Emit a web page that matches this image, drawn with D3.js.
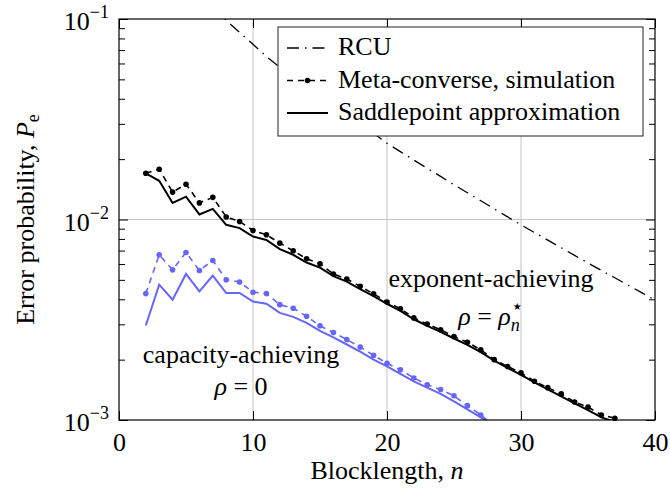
<!DOCTYPE html>
<html>
<head>
<meta charset="utf-8">
<script src="https://cdn.jsdelivr.net/npm/d3@7"></script>
<style>
  body { margin: 0; background: #fff; }
  text { font-family: "Liberation Serif", "Times New Roman", serif; fill: #000; }
</style>
</head>
<body>
<div id="canvas"></div>
<script>
"use strict"

let drawingWidth = 670;
let drawingHeight = 490;
let plotLeft = 119, plotRight = 655, plotTop = 19, plotBottom = 420;

/* data */
let xTicks = [0, 10, 20, 30, 40];
let yTicks = [1e-3, 1e-2, 1e-1];
let yTickExponents = ["\u22123", "\u22122", "\u22121"];
let minorMultipliers = [2, 3, 4, 5, 6, 7, 8, 9];

// exponent-achieving (black), n = 2..37
let nExp = [2, 3, 4, 5, 6, 7, 8, 9, 10, 11, 12, 13, 14, 15, 16, 17, 18, 19, 20,
            21, 22, 23, 24, 25, 26, 27, 28, 29, 30, 31, 32, 33, 34, 35, 36, 37];
let simExp = [0.0170, 0.0178, 0.0137, 0.0150, 0.0121, 0.0129, 0.0103, 0.00977, 0.00881,
              0.00840, 0.00762, 0.00698, 0.00637, 0.00601, 0.00535, 0.00505, 0.00464,
              0.00426, 0.00388, 0.00359, 0.00323, 0.00301, 0.00282, 0.00261, 0.00244,
              0.00224, 0.00200, 0.00185, 0.00172, 0.00156, 0.00145, 0.00135, 0.00123,
              0.00116, 0.00106, 0.00102];
let saddleExp = [0.0170, 0.0156, 0.0121, 0.0130, 0.0106, 0.0113, 0.00941, 0.00906, 0.00822,
                 0.00790, 0.00712, 0.00667, 0.00610, 0.00575, 0.00522, 0.00490, 0.00450,
                 0.00415, 0.00380, 0.00350, 0.00318, 0.00295, 0.00275, 0.00255, 0.00237,
                 0.00218, 0.00198, 0.00182, 0.00168, 0.00154, 0.00142, 0.00131, 0.00121,
                 0.00112, 0.00103, 0.00098];

// capacity-achieving (blue), n = 2..28
let nCap = [2, 3, 4, 5, 6, 7, 8, 9, 10, 11, 12, 13, 14, 15, 16, 17, 18, 19, 20,
            21, 22, 23, 24, 25, 26, 27, 28];
let simCap = [0.00427, 0.00667, 0.00561, 0.00685, 0.00557, 0.00625, 0.00501, 0.00488,
              0.00434, 0.00427, 0.00376, 0.00361, 0.00329, 0.00295, 0.00273, 0.00252,
              0.00231, 0.00210, 0.00192, 0.00178, 0.00162, 0.00150, 0.00142, 0.00132,
              0.00118, 0.00106, 0.00093];
let saddleCap = [0.00296, 0.00473, 0.00398, 0.00535, 0.00438, 0.00525, 0.00430, 0.00430,
                 0.00390, 0.00380, 0.00342, 0.00327, 0.00305, 0.00278, 0.00258, 0.00238,
                 0.00219, 0.00200, 0.00185, 0.00170, 0.00156, 0.00145, 0.00135, 0.00124,
                 0.00113, 0.00103, 0.00094];

// RCU bound, n = 7..40
let nRcu = [7, 8, 9, 10, 11, 12, 13, 14, 15, 16, 17, 18, 19, 20, 21, 22, 23, 24, 25, 26,
            27, 28, 29, 30, 31, 32, 33, 34, 35, 36, 37, 38, 39, 40];
let rcu = [0.117, 0.0986, 0.0857, 0.0748, 0.0650, 0.0575, 0.0515, 0.0462, 0.0415, 0.0372,
           0.0334, 0.0300, 0.0269, 0.0240, 0.0218, 0.0198, 0.0180, 0.0164, 0.0149, 0.0136,
           0.0124, 0.0113, 0.0103, 0.00940, 0.00861, 0.00789, 0.00723, 0.00662, 0.00607,
           0.00557, 0.00512, 0.00470, 0.00432, 0.00396];

let legendLabels = ["RCU", "Meta-converse, simulation", "Saddlepoint approximation"];

let blue = "#6666ff";

let drawing = d3.select("#canvas")
    .append("svg")
    .attr("width", drawingWidth)
    .attr("height", drawingHeight);

let x = d3.scaleLinear().domain([0, 40]).range([plotLeft, plotRight]);
let y = d3.scaleLog().domain([1e-3, 1e-1]).range([plotBottom, plotTop]);

drawing.append("clipPath")
    .attr("id", "plotClip")
    .append("rect")
    .attr("x", plotLeft)
    .attr("y", plotTop)
    .attr("width", plotRight - plotLeft)
    .attr("height", plotBottom - plotTop);

/* grid */
let grid = drawing.append("g").attr("stroke", "#c4c4c4").attr("stroke-width", 1);
grid.selectAll(".vgrid")
    .data(xTicks.slice(1, -1))
    .join("line")
    .attr("x1", d => x(d)).attr("x2", d => x(d))
    .attr("y1", plotTop).attr("y2", plotBottom);
grid.selectAll(".hgrid")
    .data([1e-2])
    .join("line")
    .attr("x1", plotLeft).attr("x2", plotRight)
    .attr("y1", d => y(d)).attr("y2", d => y(d));

/* ticks, drawn inward */
let bottomAxis = drawing.append("g")
    .attr("transform", `translate(0,${plotBottom})`)
    .call(d3.axisBottom(x).tickValues(xTicks).tickSizeInner(-9).tickSizeOuter(0).tickFormat(d3.format("d")));
bottomAxis.select(".domain").remove();
bottomAxis.selectAll("text")
    .attr("y", 31).attr("dy", null)
    .attr("font-size", 26)
    .attr("font-family", null);

let topAxis = drawing.append("g")
    .attr("transform", `translate(0,${plotTop})`)
    .call(d3.axisTop(x).tickValues(xTicks).tickSizeInner(-9).tickSizeOuter(0).tickFormat(""));
topAxis.select(".domain").remove();

let minorTicks = [];
yTicks.slice(0, -1).forEach(t => minorMultipliers.forEach(m => minorTicks.push(t * m)));

let leftAxis = drawing.append("g")
    .attr("transform", `translate(${plotLeft},0)`)
    .call(d3.axisLeft(y).tickValues(yTicks).tickSizeInner(-9).tickSizeOuter(0).tickFormat(""));
leftAxis.select(".domain").remove();
let rightAxis = drawing.append("g")
    .attr("transform", `translate(${plotRight},0)`)
    .call(d3.axisRight(y).tickValues(yTicks).tickSizeInner(-9).tickSizeOuter(0).tickFormat(""));
rightAxis.select(".domain").remove();

drawing.append("g")
    .attr("transform", `translate(${plotLeft},0)`)
    .call(d3.axisLeft(y).tickValues(minorTicks).tickSizeInner(-6).tickSizeOuter(0).tickFormat(""))
    .select(".domain").remove();
drawing.append("g")
    .attr("transform", `translate(${plotRight},0)`)
    .call(d3.axisRight(y).tickValues(minorTicks).tickSizeInner(-6).tickSizeOuter(0).tickFormat(""))
    .select(".domain").remove();

// y tick labels 10^k
let yLabels = drawing.append("g")
    .selectAll("text")
    .data(yTicks)
    .join("text")
    .attr("x", plotLeft - 10)
    .attr("y", d => y(d) + 11)
    .attr("text-anchor", "end")
    .attr("font-size", 26);
yLabels.append("tspan").text("10");
yLabels.append("tspan")
    .attr("dy", -12)
    .attr("font-size", 18)
    .text((d, i) => yTickExponents[i]);

/* data lines */
let lineGen = d3.line().x(d => x(d[0])).y(d => y(d[1]));
let plotArea = drawing.append("g").attr("clip-path", "url(#plotClip)");

plotArea.append("path")
    .attr("d", lineGen(d3.zip(nRcu, rcu)))
    .attr("fill", "none")
    .attr("stroke", "black")
    .attr("stroke-width", 1.3)
    .attr("stroke-dasharray", "12,6,1.5,6");

function drawSeries(ns, sim, saddle, color) {
    plotArea.append("path")
        .attr("d", lineGen(d3.zip(ns, saddle)))
        .attr("fill", "none")
        .attr("stroke", color)
        .attr("stroke-width", 2);
    plotArea.append("path")
        .attr("d", lineGen(d3.zip(ns, sim)))
        .attr("fill", "none")
        .attr("stroke", color)
        .attr("stroke-width", 1.6)
        .attr("stroke-dasharray", "6,5");
    drawing.append("g")
        .selectAll("circle")
        .data(d3.zip(ns, sim).filter(d => d[1] >= 1e-3))
        .join("circle")
        .attr("cx", d => x(d[0]))
        .attr("cy", d => y(d[1]))
        .attr("r", 2.8)
        .attr("fill", color);
}
drawSeries(nCap, simCap, saddleCap, blue);
drawSeries(nExp, simExp, saddleExp, "black");

/* frame */
drawing.append("rect")
    .attr("x", plotLeft)
    .attr("y", plotTop)
    .attr("width", plotRight - plotLeft)
    .attr("height", plotBottom - plotTop)
    .attr("fill", "none")
    .attr("stroke", "black")
    .attr("stroke-width", 1.2);

/* axis labels */
drawing.append("text")
    .attr("x", (plotLeft + plotRight) / 2)
    .attr("y", 479)
    .attr("text-anchor", "middle")
    .attr("font-size", 26)
    .call(t => t.append("tspan").text("Blocklength, "))
    .call(t => t.append("tspan").attr("font-style", "italic").text("n"));

let yTitle = drawing.append("text")
    .attr("transform", `translate(34,${(plotTop + plotBottom) / 2}) rotate(-90)`)
    .attr("text-anchor", "middle")
    .attr("font-size", 26);
yTitle.append("tspan").text("Error probability, ");
yTitle.append("tspan").attr("font-style", "italic").text("P");
yTitle.append("tspan").attr("dy", 5).attr("font-size", 18).text("e");

/* annotations */
drawing.append("text")
    .attr("x", 491).attr("y", 287)
    .attr("text-anchor", "middle")
    .attr("font-size", 26)
    .text("exponent-achieving");
let rhoStar = drawing.append("text")
    .attr("x", 491).attr("y", 325)
    .attr("text-anchor", "middle")
    .attr("font-size", 26);
rhoStar.append("tspan").attr("font-style", "italic").text("\u03c1");
rhoStar.append("tspan").text(" = ");
rhoStar.append("tspan").attr("font-style", "italic").text("\u03c1");
rhoStar.append("tspan").attr("font-style", "italic").attr("font-size", 18).attr("dy", 6).text("n");
rhoStar.append("tspan").attr("font-size", 20).attr("dx", -9).attr("dy", -18).text("\u22c6");

drawing.append("text")
    .attr("x", 241).attr("y", 363)
    .attr("text-anchor", "middle")
    .attr("font-size", 26)
    .text("capacity-achieving");
let rhoZero = drawing.append("text")
    .attr("x", 241).attr("y", 395)
    .attr("text-anchor", "middle")
    .attr("font-size", 26);
rhoZero.append("tspan").attr("font-style", "italic").text("\u03c1");
rhoZero.append("tspan").text(" = 0");

/* legend */
let legend = drawing.append("g");
legend.append("rect")
    .attr("x", 278).attr("y", 27)
    .attr("width", 365).attr("height", 109)
    .attr("fill", "white")
    .attr("stroke", "#222")
    .attr("stroke-width", 1);
let rowY = [48, 80.5, 113];
let rowDash = ["12,6,1.5,6", "6,5", null];
let rowWidth = [1.3, 1.6, 2];
legend.selectAll(".sample")
    .data(legendLabels)
    .join("line")
    .attr("x1", 287).attr("x2", 328)
    .attr("y1", (d, i) => rowY[i]).attr("y2", (d, i) => rowY[i])
    .attr("stroke", "black")
    .attr("stroke-width", (d, i) => rowWidth[i])
    .attr("stroke-dasharray", (d, i) => rowDash[i]);
legend.append("circle")
    .attr("cx", 307.5).attr("cy", rowY[1])
    .attr("r", 2.8)
    .attr("fill", "black");
legend.selectAll("text")
    .data(legendLabels)
    .join("text")
    .attr("x", 338)
    .attr("y", (d, i) => rowY[i] + 7)
    .attr("font-size", 26)
    .text(d => d);
</script>
</body>
</html>
